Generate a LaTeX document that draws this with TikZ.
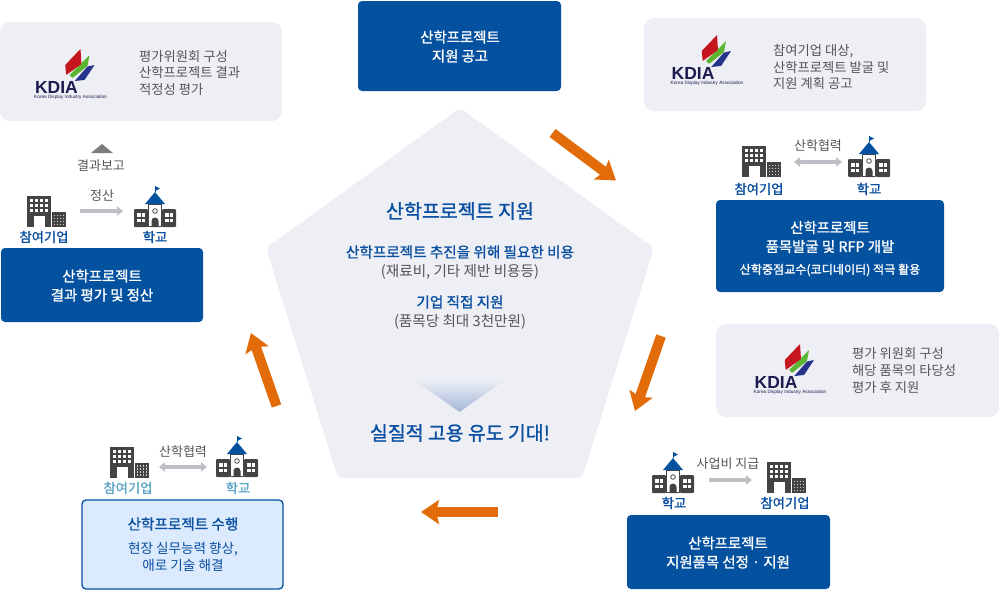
\documentclass[tikz,border=0pt]{standalone}
\usepackage{fontspec}
\setmainfont[BoldFont={Noto Sans CJK KR},BoldFeatures={FakeBold=1.2}]{Noto Sans CJK KR}
\newfontfamily\logofont{Liberation Sans}
\usetikzlibrary{arrows.meta,positioning}
\definecolor{boxblue}{HTML}{03519F}
\definecolor{txtblue}{HTML}{0A4FA0}
\definecolor{softgrey}{HTML}{EDEFF5}
\definecolor{txtgrey}{HTML}{555555}
\definecolor{icondark}{HTML}{444444}
\definecolor{arroworange}{HTML}{E36C0A}
\definecolor{arrowgrey}{HTML}{BEBEC4}
\definecolor{lightlabel}{HTML}{5CA5C6}
\definecolor{lightbox}{HTML}{DBEAFC}
\definecolor{shadeblue}{HTML}{A5B6D8}
\definecolor{kdiablue}{HTML}{27348B}
\definecolor{kdiagreen}{HTML}{5CB531}
\definecolor{kdiared}{HTML}{C4161C}
\definecolor{kdianavy}{HTML}{1F1A50}
\tikzset{
  x=1pt,y=-1pt,
  bluebox/.style={draw=none,fill=boxblue,rounded corners=4pt},
  greybox/.style={draw=none,fill=softgrey,rounded corners=10pt},
  whitetext/.style={text=white,align=center,font=\fontsize{14.4}{19}\selectfont\bfseries},
  greytext/.style={text=txtgrey,align=left,font=\fontsize{13.3}{16.6}\selectfont,anchor=west,inner sep=0pt},
  caption/.style={text=txtgrey,font=\fontsize{13}{14}\selectfont,inner sep=0pt},
  who/.style={text=txtblue,font=\fontsize{13.3}{14}\selectfont\bfseries,inner sep=0pt},
  lightwho/.style={text=lightlabel,font=\fontsize{13.3}{14}\selectfont\bfseries,inner sep=0pt},
  flowarrow/.style={draw=arroworange,line width=10pt,-{Stealth[length=18pt,width=24pt,inset=3pt]}},
  onearrow/.style={draw=arrowgrey,line width=3.5pt,-{Triangle[length=6pt,width=9pt]}},
  twoarrow/.style={draw=arrowgrey,line width=3.5pt,{Triangle[length=6pt,width=9pt]}-{Triangle[length=6pt,width=9pt]}},
  pics/bldg/.style={code={
    \fill[icondark] (0,0) rectangle (24,31);
    \fill[icondark] (24.6,16) rectangle (39,31);
    \foreach \cx in {3,8,13,18}{\foreach \cy in {3,8,13}{\fill[white] (\cx,\cy) rectangle ++(3.4,3);}}
    \fill[white] (7,20) rectangle (18,31);
    \foreach \cx in {26.5,29.5,32.5,35.5}{\foreach \cy in {18.5,21.5,24.5,27.5}{\fill[white!75!icondark] (\cx,\cy) rectangle ++(1.8,1.6);}}
  }},
  pics/schoolicon/.style={code={
    \fill[icondark,rounded corners=1pt] (-21,-18) rectangle (-7,0);
    \fill[icondark,rounded corners=1pt] (7,-18) rectangle (21,0);
    \foreach \cx in {-18,-13.5,10,14.5}{\foreach \cy in {-14,-8.5}{\fill[white] (\cx,\cy) rectangle ++(3.5,3.5);}}
    \draw[icondark,line width=1pt,fill=white] (-6.5,-23) rectangle (6.5,-0.5);
    \fill[icondark] (-3.5,0) -- (-3.5,-6) -- (-2.5,-8.5) -- (0,-9.5) -- (2.5,-8.5) -- (3.5,-6) -- (3.5,0) -- cycle;
    \draw[icondark,line width=.8pt] (0,-16) circle[radius=2.3];
    \fill[boxblue] (-10,-23) -- (0,-35) -- (10,-23) -- cycle;
    \draw[boxblue,line width=.7pt] (0,-35) -- (0,-41);
    \fill[boxblue] (0,-41) -- (5,-38.5) -- (0,-36) -- cycle;
  }},
  pics/kdia/.style={code={
    \fill[kdiablue,rounded corners=.5pt] (53,-15.5) -- (60,-17) -- (50,-2) -- (40,-1) -- (42,-3) -- cycle;
    \fill[kdiagreen,rounded corners=.5pt] (35,-7) -- (55,-27) -- (53,-16) -- (38,-4) -- cycle;
    \fill[kdiared,rounded corners=.5pt] (30.7,-17) -- (46,-33) -- (47,-18) -- (31.7,-7) -- cycle;
    \node[inner sep=0pt,text height=12pt,text depth=0pt,text=kdianavy,font=\logofont\fontsize{17.5}{17}\selectfont\bfseries] (-name) at (22,5.5) {KDIA};
    \node[inner sep=0pt,text height=3.4pt,text depth=.6pt,text=kdianavy,font=\logofont\fontsize{4.7}{5}\selectfont] (-sub) at (36,15) {Korea Display Industry Association};
  }},
}
\begin{document}
\begin{tikzpicture}
\useasboundingbox (0,0) rectangle (1000,590);
% central pentagon
\coordinate (pT) at (460,108);
\coordinate (pR) at (654,248);
\coordinate (pBR) at (582,478);
\coordinate (pBL) at (338,478);
\coordinate (pL) at (266,248);
\fill[softgrey,rounded corners=5pt] (pT) -- (pR) -- (pBR) -- (pBL) -- (pL) -- cycle;
\shade[top color=softgrey,bottom color=shadeblue] (413,379) -- (506,379) -- (459.5,412) -- cycle;
\node[text=txtblue,font=\fontsize{19.5}{20}\selectfont\bfseries,inner sep=0pt] (ptitle) at (460,211) {산학프로젝트 지원};
\node[text=txtblue,font=\fontsize{14.6}{16}\selectfont\bfseries,inner sep=0pt] (pl1) at (460,252) {산학프로젝트 추진을 위해 필요한 비용};
\node[text=txtgrey,font=\fontsize{14.6}{16}\selectfont,inner sep=0pt] (pl2) at (460,272) {(재료비, 기타 제반 비용등)};
\node[text=txtblue,font=\fontsize{14.6}{16}\selectfont\bfseries,inner sep=0pt] (pl3) at (460,302) {기업 직접 지원};
\node[text=txtgrey,font=\fontsize{14.6}{16}\selectfont,inner sep=0pt] (pl4) at (460,322) {(품목당 최대 3천만원)};
\node[text=txtblue,font=\fontsize{19.4}{20}\selectfont\bfseries,inner sep=0pt] (pend) at (460,433) {실질적 고용 유도 기대!};
% blue boxes
\fill[bluebox] (358,1) rectangle (561,91);
\node[whitetext] (topbox) at (460,46.5) {산학프로젝트\\지원 공고};
\fill[bluebox] (716,200) rectangle (944,292);
\node[whitetext] (rbox) at (830,237) {산학프로젝트\\품목발굴 및 RFP 개발};
\node[text=white,font=\fontsize{12.1}{14}\selectfont\bfseries,inner sep=0pt] (rbox2) at (830,270) {산학중점교수(코디네이터) 적극 활용};
\fill[bluebox] (627,515) rectangle (830,589);
\node[whitetext] (brbox) at (728,552.5) {산학프로젝트\\지원품목 선정 · 지원};
\fill[bluebox] (1,248) rectangle (203,322);
\node[whitetext] (lbox) at (102,285.5) {산학프로젝트\\결과 평가 및 정산};
\filldraw[fill=lightbox,draw=boxblue,line width=1.3pt,rounded corners=4pt] (82,500) rectangle (283,589);
\node[text=txtblue,font=\fontsize{14.6}{16}\selectfont\bfseries,inner sep=0pt] (blt) at (183,524) {산학프로젝트 수행};
\node[text=txtblue,align=center,font=\fontsize{13.6}{16.4}\selectfont,inner sep=0pt] (blb) at (183,557) {현장 실무능력 향상,\\애로 기술 해결};
% grey boxes
\fill[greybox] (0,22) rectangle (282,121);
\pic (logoA) at (34.5,82) {kdia};
\node[greytext] (gA) at (139,73) {평가위원회 구성\\산학프로젝트 결과\\적정성 평가};
\fill[greybox] (644,18) rectangle (926,111);
\pic (logoB) at (671,68) {kdia};
\node[greytext] (gB) at (773,67) {참여기업 대상,\\산학프로젝트 발굴 및\\지원 계획 공고};
\fill[greybox] (716,324) rectangle (999,417);
\pic (logoC) at (754,377) {kdia};
\node[greytext] (gC) at (852,370.5) {평가 위원회 구성\\해당 품목의 타당성\\평가 후 지원};
% orange flow arrows
\coordinate (a1s) at (552.5,133); \coordinate (a1e) at (616,180.5);
\draw[flowarrow] (a1s) -- (a1e);
\coordinate (a2s) at (661,336); \coordinate (a2e) at (635,411);
\draw[flowarrow] (a2s) -- (a2e);
\coordinate (a3s) at (498,512); \coordinate (a3e) at (421,512);
\draw[flowarrow] (a3s) -- (a3e);
\coordinate (a4s) at (276.5,406); \coordinate (a4e) at (251,333);
\draw[flowarrow] (a4s) -- (a4e);
% left group
\fill[icondark!70!white] (102,144) -- (113,153) -- (91,153) -- cycle;
\node[caption] (report) at (101,166) {결과보고};
\node[caption] (settle) at (102,196) {정산};
\pic (bL) at (27,196) {bldg};
\pic (sL) at (155,227) {schoolicon};
\coordinate (gLs) at (80,211); \coordinate (gLe) at (123,211);
\draw[onearrow] (gLs) -- (gLe);
\node[who] (wL1) at (44,237) {참여기업};
\node[who] (wL2) at (155,237) {학교};
% top right group
\node[caption] (coopR) at (818,146) {산학협력};
\pic (bR) at (742,146) {bldg};
\pic (sR) at (869,177) {schoolicon};
\coordinate (gRs) at (794,162); \coordinate (gRe) at (842,162);
\draw[twoarrow] (gRs) -- (gRe);
\node[who] (wR1) at (759,189) {참여기업};
\node[who] (wR2) at (869,189) {학교};
% bottom right group
\node[caption] (payB) at (728,464) {사업비 지급};
\pic (sB) at (673,493) {schoolicon};
\pic (bB) at (767,462) {bldg};
\coordinate (gBs) at (709,480); \coordinate (gBe) at (752,480);
\draw[onearrow] (gBs) -- (gBe);
\node[who] (wB1) at (674,503) {학교};
\node[who] (wB2) at (785,503) {참여기업};
% bottom left group
\node[caption] (coopL) at (183,452) {산학협력};
\pic (bT) at (110,446.5) {bldg};
\pic (sT) at (237,477) {schoolicon};
\coordinate (gTs) at (159,467); \coordinate (gTe) at (207,467);
\draw[twoarrow] (gTs) -- (gTe);
\node[lightwho] (wT1) at (128,488) {참여기업};
\node[lightwho] (wT2) at (238,488) {학교};
\end{tikzpicture}
\end{document}
